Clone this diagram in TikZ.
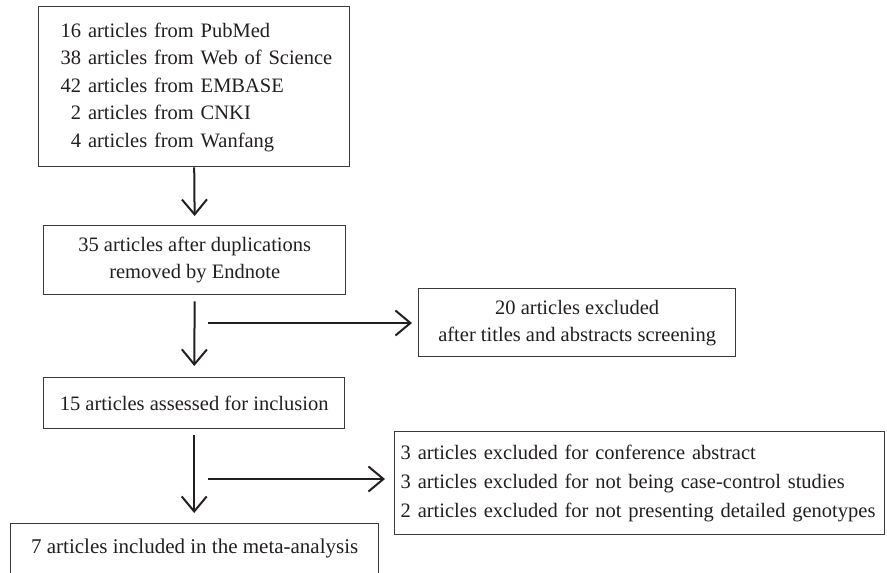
\documentclass[tikz,border=0pt]{standalone}
\usepackage{fontspec}
\setmainfont{Liberation Serif}
\usetikzlibrary{arrows.meta}
\definecolor{ink}{HTML}{231F20}
\definecolor{frame}{HTML}{3A3A3A}
\begin{document}
\begin{tikzpicture}[x=1pt,y=-1pt,
  box/.style={draw=frame, line width=1.4pt, rectangle, anchor=north west, inner ysep=0pt,
              text=ink, font=\fontsize{20.5}{27.5}\selectfont},
  arr/.style={draw=ink, line width=2pt,
              -{Straight Barb[length=15pt,width=25pt,line width=2pt]}}]
\useasboundingbox (0,0) rectangle (887,573);

\node[box, minimum width=311pt, minimum height=160pt, text width=311pt, inner xsep=0pt, align=left]
  (b1) at (38,6) {\begin{tabular}{@{\hspace{22pt}}l@{}}16 articles from PubMed\\38 articles from Web of Science\\42 articles from EMBASE\\
  \phantom{1}2 articles from CNKI\\\phantom{1}4 articles from Wanfang\end{tabular}};

\node[box, minimum width=302pt, minimum height=69pt, align=center, font=\fontsize{20.5}{27}\selectfont]
  (b2) at (43,225) {35 articles after duplications\\removed by Endnote};

\node[box, minimum width=317pt, minimum height=68pt, align=center, font=\fontsize{20.5}{27}\selectfont]
  (b3) at (418,288) {20 articles excluded\\after titles and abstracts screening};

\node[box, minimum width=301pt, minimum height=51pt, align=center]
  (b4) at (43,377) {15 articles assessed for inclusion};

\node[box, minimum width=490pt, minimum height=103pt, text width=478pt, inner xsep=6pt, align=left,
      font=\fontsize{20.5}{29}\selectfont]
  (b5) at (394,431) {3 articles excluded for conference abstract\\3 articles excluded for not being case-control studies\\2 articles excluded for not presenting detailed genotypes};

\node[box, minimum width=368pt, text height=30pt, text depth=40pt, align=center, font=\fontsize{21}{27.5}\selectfont]
  (b6) at (10,523) {7 articles included in the meta-analysis};

\coordinate (c1) at (208,323);
\coordinate (c2) at (208,479);

\draw[arr, shorten >=9pt] (b1.south) -- (b2.north);
\draw[arr, shorten <=6pt, shorten >=11pt] (b2.south) -- (b4.north);
\draw[arr, shorten <=6pt, shorten >=10pt] (b4.south) -- (b4.south |- b6.north);
\draw[arr, shorten >=6pt] (c1) -- (c1 -| b3.west);
\draw[arr, shorten >=9pt] (c2) -- (c2 -| b5.west);
\end{tikzpicture}
\end{document}
